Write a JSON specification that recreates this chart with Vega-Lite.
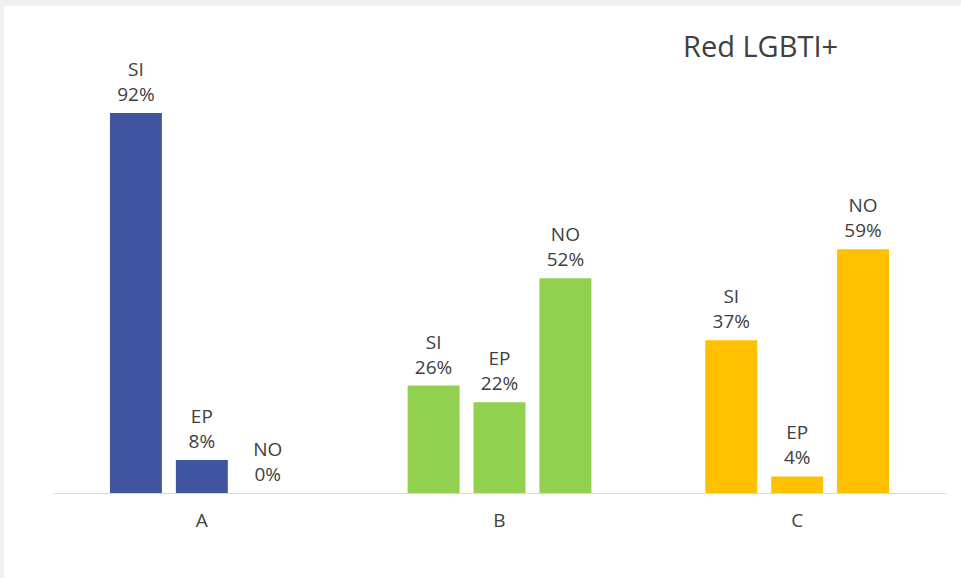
{
  "$schema": "https://vega.github.io/schema/vega-lite/v6.json",
  "autosize": "none",
  "width": 957,
  "height": 572,
  "padding": {"left": 4, "top": 6, "right": 0, "bottom": 0},
  "background": "#f0f0f0",
  "config": {"view": {"fill": "white", "stroke": null}},
  "title": {
    "text": "Red LGBTI+",
    "anchor": "start",
    "frame": "group",
    "orient": "top",
    "offset": 0,
    "baseline": "alphabetic",
    "dx": 679,
    "dy": 80,
    "font": "Open Sans",
    "fontSize": 29,
    "fontWeight": "normal",
    "color": "#404040"
  },
  "data": {
    "values": [
      {"group": "A", "cat": "SI", "value": 92},
      {"group": "A", "cat": "EP", "value": 8},
      {"group": "A", "cat": "NO", "value": 0},
      {"group": "B", "cat": "SI", "value": 26},
      {"group": "B", "cat": "EP", "value": 22},
      {"group": "B", "cat": "NO", "value": 52},
      {"group": "C", "cat": "SI", "value": 37},
      {"group": "C", "cat": "EP", "value": 4},
      {"group": "C", "cat": "NO", "value": 59}
    ]
  },
  "transform": [
    {"calculate": "datum.cat + '\\n' + datum.value + '%'", "as": "label"}
  ],
  "encoding": {
    "x": {
      "field": "group",
      "type": "nominal",
      "scale": {"range": [49, 942], "paddingInner": 0, "paddingOuter": 0},
      "axis": {
        "title": null,
        "orient": "bottom",
        "offset": -85,
        "labelAngle": 0,
        "ticks": false,
        "domainColor": "#d9d9d9",
        "domainWidth": 1,
        "labelFont": "Open Sans",
        "labelFontSize": 19,
        "labelColor": "#404040",
        "labelPadding": 18
      }
    },
    "xOffset": {
      "field": "cat",
      "type": "nominal",
      "sort": ["SI", "EP", "NO"],
      "scale": {"paddingInner": 0.212, "paddingOuter": 0.864}
    },
    "y": {
      "field": "value",
      "type": "quantitative",
      "scale": {"domain": [0, 100], "range": [487, 74], "nice": false},
      "axis": null
    }
  },
  "layer": [
    {
      "mark": {"type": "bar"},
      "encoding": {
        "y2": {"datum": 0},
        "color": {
          "field": "group",
          "type": "nominal",
          "scale": {"domain": ["A", "B", "C"], "range": ["#3F55A0", "#92D050", "#FFC000"]},
          "legend": null
        }
      }
    },
    {
      "mark": {
        "type": "text",
        "lineBreak": "\n",
        "baseline": "bottom",
        "dy": -33,
        "lineHeight": 25,
        "font": "Open Sans",
        "fontSize": 19,
        "color": "#404040"
      },
      "encoding": {
        "text": {"field": "label"}
      }
    }
  ]
}
